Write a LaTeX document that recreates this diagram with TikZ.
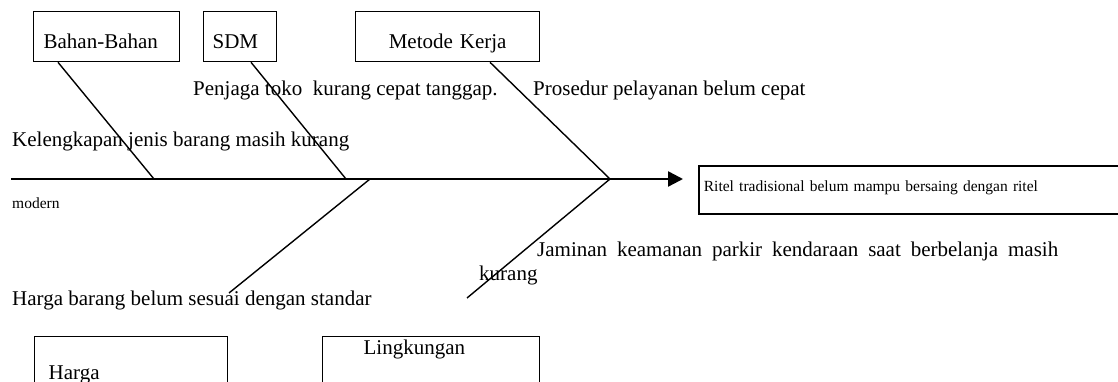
\documentclass[tikz,border=0pt]{standalone}
\usepackage{fontspec}
\setmainfont{Liberation Serif}
\usetikzlibrary{arrows.meta,positioning}
\newcommand{\bigtxt}{\fontsize{21}{25}\selectfont}
\newcommand{\smalltxt}{\fontsize{15.5}{18}\selectfont}
\tikzset{
    %Define standard arrow tip
    >={Triangle[length=15pt,width=15pt]},
    %Define style for boxes
    box/.style={
           rectangle,
           draw=black, line width=1.3pt,
           anchor=north west,
           inner ysep=0pt,
           minimum height=50pt,
           align=left,
           font=\bigtxt},
    %Define style for cause texts
    cause/.style={
           anchor=base west,
           inner sep=0pt,
           font=\bigtxt},
    % Define line styles
    spine/.style={
           ->,
           line width=2.4pt},
    bone/.style={
           line width=1.4pt}
}

\begin{document}
\begin{tikzpicture}[x=1pt, y=-1pt]
    \clip (0,0) rectangle (1118,382);
 %boxes
    \node[box, inner xsep=10pt, text width=126pt, text height=24pt, text depth=0pt] (bahan) at (33,11) {Bahan-Bahan};
    \node[box, inner xsep=9pt, text width=55pt, text height=24pt, text depth=0pt] (sdm) at (203,11) {SDM};
    \node[box, inner xsep=6pt, text width=172pt, text height=24pt, text depth=0pt, align=center] (metode) at (355,11) {Metode Kerja};
    \node[box, inner xsep=14pt, text width=165pt, minimum height=60pt, text height=26pt, text depth=0pt] (harga) at (34,336) {Harga};
    \node[box, inner xsep=41pt, text width=135pt, minimum height=60pt, text height=0pt, text depth=24pt] (lingkungan) at (322,336) {Lingkungan};
    \node[box, line width=1.8pt, font=\smalltxt, inner xsep=5pt, text width=440pt, minimum height=48pt, text height=4pt, text depth=0pt] (ritel) at (698,165) {Ritel tradisional belum mampu bersaing dengan ritel};
 %texts
    \node[cause] (penjaga) at (193,96) {Penjaga toko\ \ kurang cepat tanggap.};
    \node[cause] (prosedur) at (533,96) {Prosedur pelayanan belum cepat};
    \node[cause] (lengkap) at (12,147) {Kelengkapan jenis barang masih kurang};
    \node[cause, font=\smalltxt] (modern) at (12,208) {modern};
    \node[cause] (jaminan) at (537,256) {\makebox[521pt][s]{Jaminan keamanan parkir kendaraan saat berbelanja masih}};
    \node[cause] (kurang) at (479,280) {kurang};
    \node[cause] (hargabrg) at (12,305) {Harga barang belum sesuai dengan standar};
 %spine points
    \coordinate (tail) at (11,179);
    \coordinate (head) at (683,179);
    \coordinate (j1) at (154,179);
    \coordinate (j2) at (346,179);
    \coordinate (j3) at (370,179);
    \coordinate (j4) at (610,179);
    \coordinate (hargaend) at (229,293);
    \coordinate (lingkend) at (467,298);
 %edges
    \draw[spine] (tail) -- (head);
    \draw[bone] ([xshift=25pt]bahan.south west) -- (j1);
    \draw[bone] ([xshift=48pt]sdm.south west) -- (j2);
    \draw[bone] ([xshift=135pt]metode.south west) -- (j4);
    \draw[bone] (j3) -- (hargaend);
    \draw[bone] (j4) -- (lingkend);
\end{tikzpicture}
\end{document}
